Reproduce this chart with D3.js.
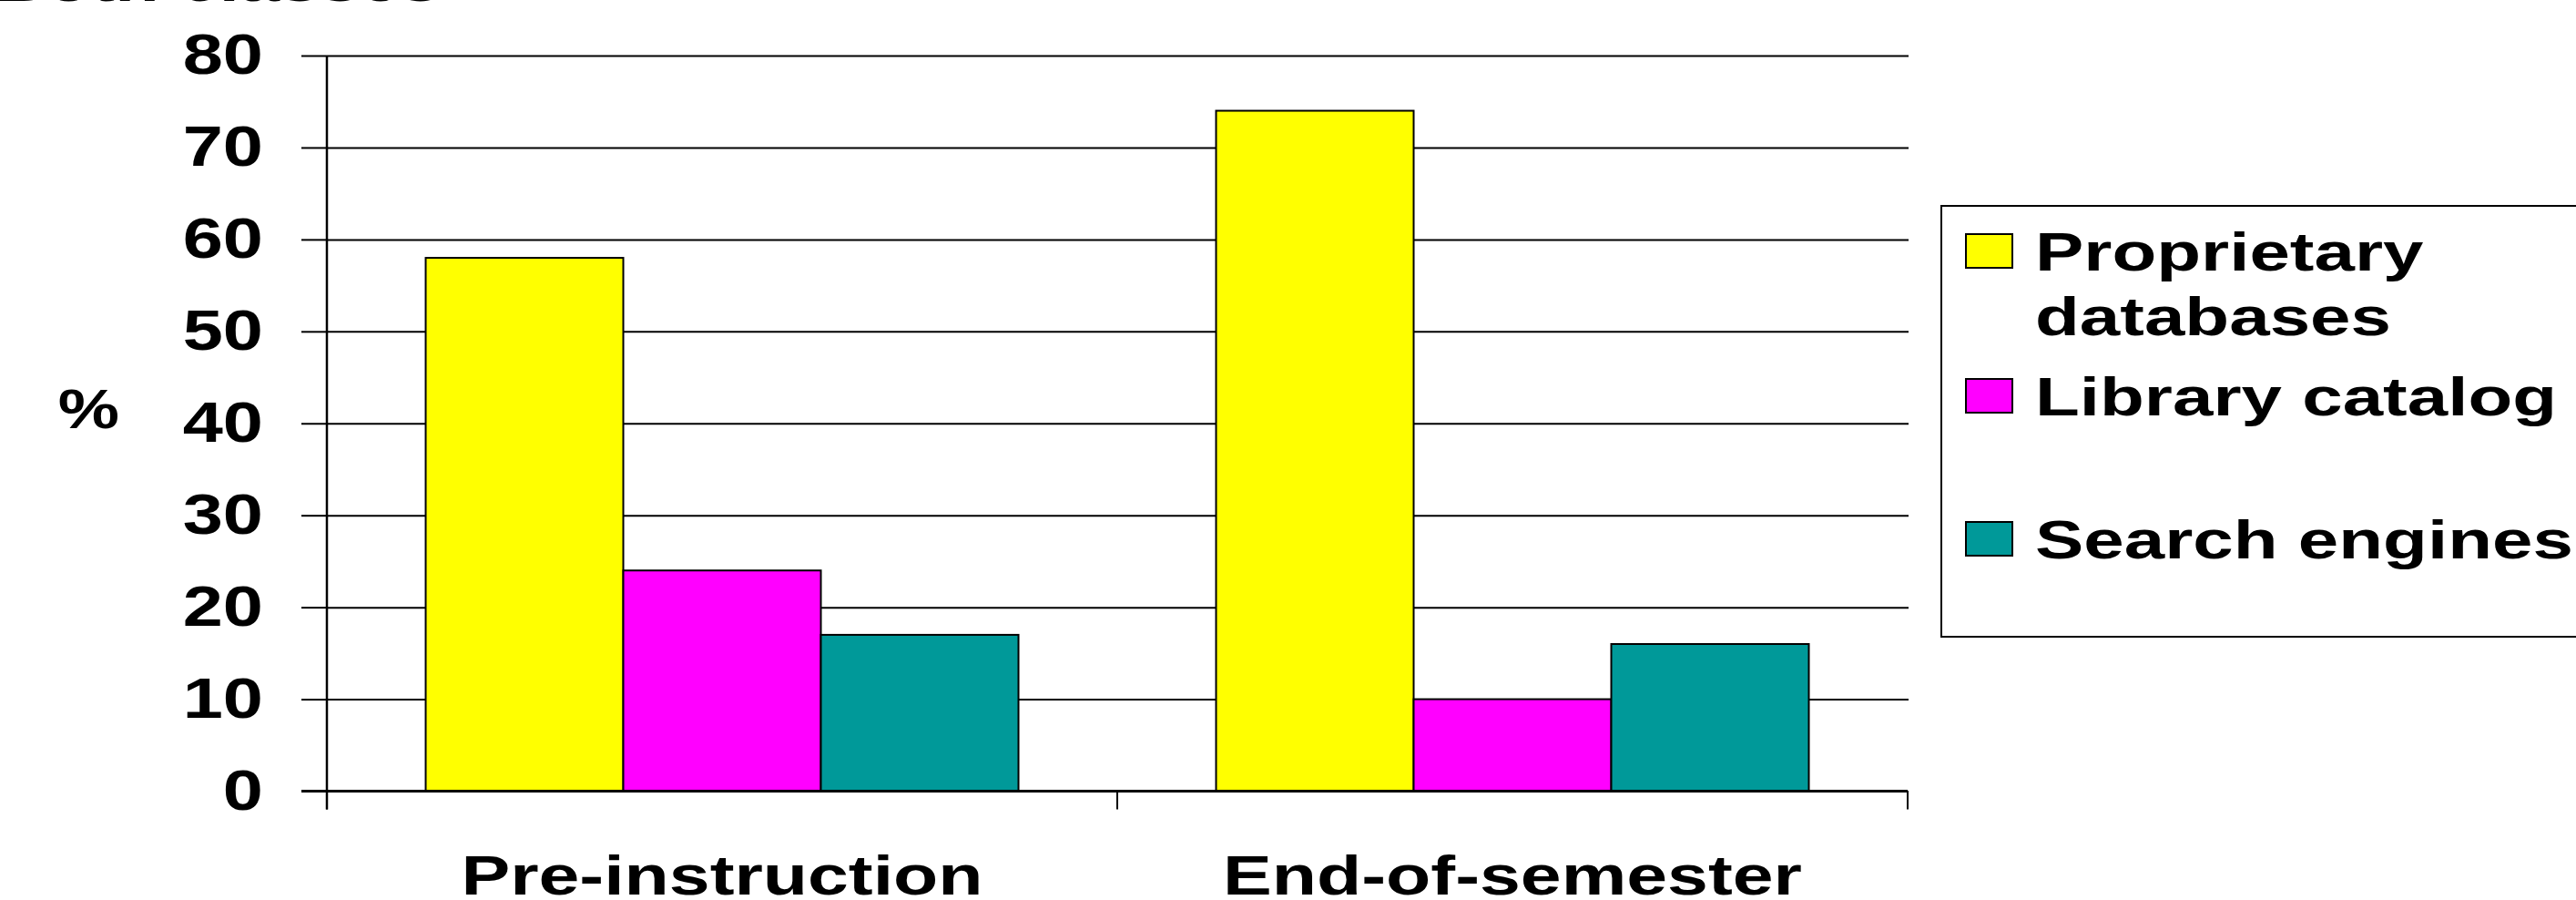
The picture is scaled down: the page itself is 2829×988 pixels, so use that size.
<!DOCTYPE html>
<html>
<head>
<meta charset="utf-8">
<script src="https://cdn.jsdelivr.net/npm/d3@7"></script>
<style>
    html, body { margin: 0; padding: 0; background: #fff; }
    svg text { font-family: "Liberation Sans", Arial, sans-serif; font-weight: bold; fill: #000; }
</style>
</head>
<body>
<svg id="chart"></svg>
<script>
// data
const categories = ['Pre-instruction', 'End-of-semester'];
const series = ['Proprietary databases', 'Library catalog', 'Search engines'];
const proprietary = [58, 74];
const libraryCatalog = [24, 10];
const searchEngines = [17, 16];
const yTicks = [0, 10, 20, 30, 40, 50, 60, 70, 80];
const legendLines = [['Proprietary', 'databases'], ['Library catalog'], ['Search engines']];
const colors = ['#FFFF00', '#FF00FF', '#009999'];

const values = [proprietary, libraryCatalog, searchEngines];

// config
const width = 2829, height = 988;
const plot = { left: 359, right: 2095, top: 61, bottom: 868.5 };
const stretch = 1.28;  // the original text is wide

const svg = d3.select('#chart')
    .attr('width', width)
    .attr('height', height);

// scales
const y = d3.scaleLinear()
    .domain([0, 80])
    .range([plot.bottom, plot.top]);

const x0 = d3.scaleBand()
    .domain(categories)
    .range([plot.left, plot.right]);

const x1 = d3.scaleBand()
    .domain(series)
    .range([0, x0.bandwidth()])
    .paddingOuter(0.5);

const color = d3.scaleOrdinal().domain(series).range(colors);

// cut-off title at the very top
svg.append('text')
    .attr('transform', `translate(-6, 1) scale(${stretch},1)`)
    .style('font-size', '62px')
    .text('Both classes');

// gridlines
svg.append('g')
    .attr('transform', `translate(${plot.left},0)`)
    .call(d3.axisRight(y).tickValues(yTicks).tickSize(plot.right + 1 - plot.left).tickFormat(''))
    .call(g => g.select('.domain').remove())
    .call(g => g.selectAll('line').attr('stroke', '#000').attr('stroke-width', 2));

// y axis
const yAxisG = svg.append('g')
    .attr('transform', `translate(${plot.left},0)`)
    .call(d3.axisLeft(y).tickValues(yTicks).tickSizeInner(28).tickSizeOuter(0).tickPadding(42));

yAxisG.select('.domain').remove();
yAxisG.selectAll('line').attr('stroke', '#000').attr('stroke-width', 2);
yAxisG.selectAll('text')
    .attr('x', 0)
    .attr('transform', `translate(-70,0) scale(${stretch},1)`)
    .style('font-size', '62px');

svg.append('line')
    .attr('x1', plot.left).attr('x2', plot.left)
    .attr('y1', plot.top).attr('y2', plot.bottom + 20)
    .attr('stroke', '#000').attr('stroke-width', 2.5);

// y title
svg.append('text')
    .attr('transform', `translate(131,470) scale(1.22,1)`)
    .attr('text-anchor', 'end')
    .style('font-size', '62px')
    .text('%');

// bars
const groups = svg.append('g')
    .selectAll('g')
    .data(categories)
    .join('g')
    .attr('transform', d => `translate(${x0(d)},0)`);

groups.selectAll('rect')
    .data((c, i) => series.map((s, j) => ({ key: s, value: values[j][i] })))
    .join('rect')
    .attr('x', d => x1(d.key))
    .attr('y', d => y(d.value))
    .attr('width', x1.bandwidth())
    .attr('height', d => plot.bottom - y(d.value))
    .attr('fill', d => color(d.key))
    .attr('stroke', '#000')
    .attr('stroke-width', 2);

// x axis
const xAxisG = svg.append('g')
    .attr('transform', `translate(0,${plot.bottom})`)
    .call(d3.axisBottom(x0).tickSize(0));

xAxisG.select('.domain').attr('stroke', '#000').attr('stroke-width', 3)
    .attr('d', `M${plot.left - 28},0H${plot.right}`);
xAxisG.selectAll('text')
    .attr('y', 0).attr('dy', 0)
    .attr('transform', `translate(0,113) scale(1.3,1)`)
    .style('font-size', '62px');

// boundary ticks between the categories
const bounds = [x0.range()[0]].concat(categories.map(c => x0(c) + x0.bandwidth()));
xAxisG.selectAll('.bound')
    .data(bounds)
    .join('line')
    .attr('class', 'bound')
    .attr('x1', d => d).attr('x2', d => d)
    .attr('y1', 0).attr('y2', 20)
    .attr('stroke', '#000').attr('stroke-width', 2);

// legend
const legend = svg.append('g')
    .attr('transform', 'translate(2132,226)');

legend.append('rect')
    .attr('width', 800)
    .attr('height', 473)
    .attr('fill', '#fff')
    .attr('stroke', '#000')
    .attr('stroke-width', 2);

const swatchTops = [31, 190, 347];
const items = legend.selectAll('.item')
    .data(series)
    .join('g')
    .attr('class', 'item')
    .attr('transform', (d, i) => `translate(27,${swatchTops[i]})`);

items.append('rect')
    .attr('width', 51)
    .attr('height', 37)
    .attr('fill', d => color(d))
    .attr('stroke', '#000')
    .attr('stroke-width', 2);

items.each(function(d, i) {
    legendLines[i].forEach((line, k) => {
        d3.select(this).append('text')
            .attr('transform', `translate(76,${40 + k * 71}) scale(1.355,1)`)
            .style('font-size', '59px')
            .text(line);
    });
});
</script>
</body>
</html>
